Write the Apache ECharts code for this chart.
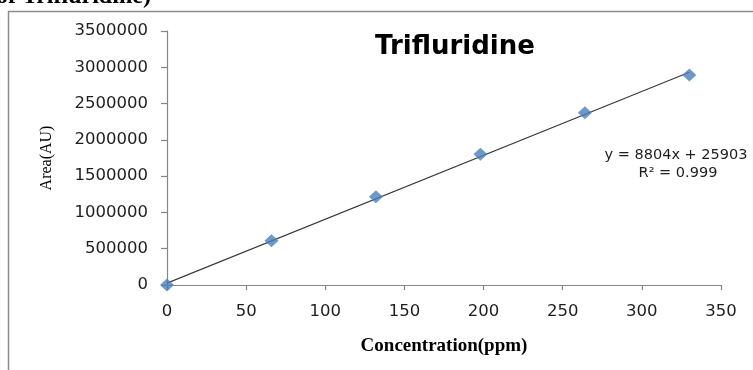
<!DOCTYPE html>
<html>
<head>
<meta charset="utf-8">
<title>Trifluridine calibration</title>
<script src="https://cdn.jsdelivr.net/npm/echarts@6/dist/echarts.min.js"></script>
<style>
  html, body { margin: 0; padding: 0; background: #ffffff; }
  #chart { width: 753px; height: 370px; }
</style>
</head>
<body>
<div id="chart"></div>
<script>
// Calibration data: concentration (ppm) vs peak area (AU)
const concentration = [0, 66, 132, 198, 264, 330];
const area = [0, 610000, 1215000, 1800000, 2375000, 2895000];

// Linear fit as reported in the equation label
const slope = 8804;
const intercept = 25903;
const rSquared = '0.999';
const fitRange = [0, 330];

const xTicks = [0, 50, 100, 150, 200, 250, 300, 350];
const yTicks = [0, 500000, 1000000, 1500000, 2000000, 2500000, 3000000, 3500000];

const points = concentration.map((c, i) => [c, area[i]]);
const fitLine = fitRange.map(x => [x, slope * x + intercept]);

const chart = echarts.init(document.getElementById('chart'), null, { renderer: 'canvas' });

const axisGray = '#868686';
const tickFont = { fontFamily: 'DejaVu Sans', fontSize: 16.5, color: '#1e1e1e' };

chart.setOption({
  animation: false,
  backgroundColor: '#ffffff',
  grid: { left: 167, right: 32, top: 31, bottom: 85, containLabel: false },
  xAxis: {
    type: 'value',
    min: xTicks[0],
    max: xTicks[xTicks.length - 1],
    interval: xTicks[1] - xTicks[0],
    name: 'Concentration(ppm)',
    nameLocation: 'middle',
    nameGap: 52,
    nameTextStyle: { fontFamily: 'Liberation Serif', fontWeight: 'bold', fontSize: 19, color: '#000' },
    axisLine: { show: true, lineStyle: { color: axisGray, width: 1.2 } },
    axisTick: { show: true, inside: false, length: 5, lineStyle: { color: axisGray, width: 1.2 } },
    axisLabel: Object.assign({ margin: 18, formatter: v => String(v) }, tickFont),
    splitLine: { show: false }
  },
  yAxis: {
    type: 'value',
    min: yTicks[0],
    max: yTicks[yTicks.length - 1],
    interval: yTicks[1] - yTicks[0],
    name: 'Area(AU)',
    nameLocation: 'middle',
    nameGap: 112,
    nameTextStyle: { fontFamily: 'Liberation Serif', fontSize: 16, color: '#000' },
    axisLine: { show: true, lineStyle: { color: axisGray, width: 1.2 } },
    axisTick: { show: true, inside: false, length: 6, lineStyle: { color: axisGray, width: 1.2 } },
    axisLabel: Object.assign({ margin: 19, formatter: v => String(v) }, tickFont),
    splitLine: { show: false }
  },
  series: [
    {
      name: 'Linear fit',
      type: 'line',
      data: fitLine,
      symbol: 'none',
      lineStyle: { color: '#3a3a3a', width: 1.1 },
      z: 2
    },
    {
      name: 'Area',
      type: 'scatter',
      data: points,
      symbol: 'diamond',
      symbolSize: [14, 13],
      itemStyle: { color: '#4a7ebb' },
      z: 3
    }
  ],
  graphic: [
    {
      type: 'rect',
      shape: { x: 8.5, y: 11.5, width: 800, height: 400 },
      style: { fill: 'none', stroke: '#8a8a8a', lineWidth: 1.5 },
      silent: true,
      z: -1
    },
    {
      type: 'text',
      left: -4,
      top: -15,
      style: {
        text: 'of Trifluridine)',
        font: 'bold 24px "Liberation Serif"',
        fill: '#000'
      }
    },
    {
      type: 'text',
      x: 455,
      y: 47,
      style: {
        text: 'Trifluridine',
        font: 'bold 26px "DejaVu Sans"',
        fill: '#000',
        align: 'center',
        verticalAlign: 'middle'
      }
    },
    {
      type: 'text',
      x: 676,
      y: 155,
      style: {
        text: 'y = ' + slope + 'x + ' + intercept,
        font: '14.5px "DejaVu Sans"',
        fill: '#1e1e1e',
        align: 'center',
        verticalAlign: 'middle'
      }
    },
    {
      type: 'text',
      x: 678,
      y: 173,
      style: {
        text: 'R² = ' + rSquared,
        font: '14.5px "DejaVu Sans"',
        fill: '#1e1e1e',
        align: 'center',
        verticalAlign: 'middle'
      }
    }
  ]
});
</script>
</body>
</html>
